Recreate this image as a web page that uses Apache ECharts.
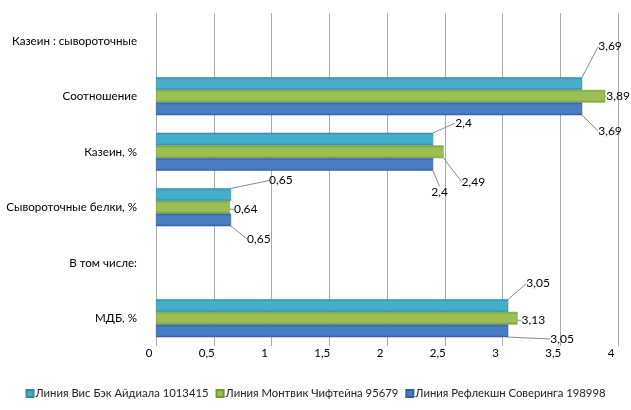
<!DOCTYPE html>
<html><head><meta charset="utf-8">
<script src="https://cdn.jsdelivr.net/npm/echarts@6/dist/echarts.min.js"></script>
<style>html,body{margin:0;padding:0;background:#fff}#c{width:631px;height:410px}</style>
</head><body><div id="c"></div>
<script>
const categories = ['Казеин : сывороточные', 'Соотношение', 'Казеин, %', 'Сывороточные белки, %', 'В том числе:', 'МДБ, %'];
const seriesNames = ['Линия Вис Бэк Айдиала 1013415', 'Линия Монтвик Чифтейна 95679', 'Линия Рефлекшн Соверинга 198998'];
const visBek = [null, 3.69, 2.4, 0.65, null, 3.05];
const montvik = [null, 3.89, 2.49, 0.64, null, 3.13];
const refleksh = [null, 3.69, 2.4, 0.65, null, 3.05];
const xTicks = [0, 0.5, 1, 1.5, 2, 2.5, 3, 3.5, 4];

const colors = ['#46AECB', '#9BBF52', '#4A7EC4'];
const dark = ['#2E8AA5', '#77983A', '#335FA0'];
// label offsets (style only) per series, per category index
const offs = [
  {1:[12,-37], 2:[18,-16], 3:[34,-14], 5:[14,-22]},
  {1:[-3,0], 2:[14,30], 3:[0,2], 5:[0,2]},
  {1:[12,22], 2:[-6,28], 3:[12,19], 5:[38,8]}
];
const fmt = v => String(v).replace('.', ',');
const font = 'Lato, "Noto Sans", sans-serif';

const chart = echarts.init(document.getElementById('c'));
const dataSets = [visBek, montvik, refleksh];
chart.setOption({
  animation: false,
  textStyle: {fontFamily: font},
  grid: {left: 156, right: 13, top: 13, bottom: 64},
  xAxis: {
    type: 'value', min: xTicks[0], max: xTicks[xTicks.length - 1], interval: 0.5,
    axisLine: {show: false}, axisTick: {show: false},
    axisLabel: {formatter: v => fmt(v), color: '#000', fontSize: 11.5, margin: 1, padding: [0, 14, 0, 0], fontFamily: font},
    splitLine: {lineStyle: {color: '#AAAAAA', width: 1}}
  },
  yAxis: {
    type: 'category', data: categories, inverse: true,
    axisLine: {show: false}, axisTick: {show: false},
    axisLabel: {color: '#000', fontSize: 11.6, margin: 19, fontFamily: font}
  },
  legend: {
    bottom: 6, left: 'center', itemWidth: 7, itemHeight: 7, itemGap: 7, icon: 'rect',
    textStyle: {fontSize: 11.3, color: '#222', fontFamily: font, padding: [0, 0, 0, -3]},
    data: seriesNames
  },
  series: dataSets.map((d, si) => ({
    name: seriesNames[si], type: 'bar', data: d,
    barWidth: 12.7, barGap: '0%',
    itemStyle: {
      color: new echarts.graphic.LinearGradient(0, 0, 0, 1, [
        {offset: 0, color: dark[si]}, {offset: 0.2, color: colors[si]},
        {offset: 0.8, color: colors[si]}, {offset: 1, color: dark[si]}
      ]),
      borderColor: dark[si], borderWidth: 0.5
    },
    label: {show: true, position: 'right', distance: 4, color: '#000', fontSize: 12, fontFamily: font,
      formatter: p => fmt(p.value)},
    labelLine: {show: true, lineStyle: {color: '#8A8A8A', width: 1}},
    labelLayout: p => {
      const o = offs[si][p.dataIndex] || [0, 0];
      return {dx: o[0], dy: o[1]};
    }
  })),
  color: colors
});
</script></body></html>
